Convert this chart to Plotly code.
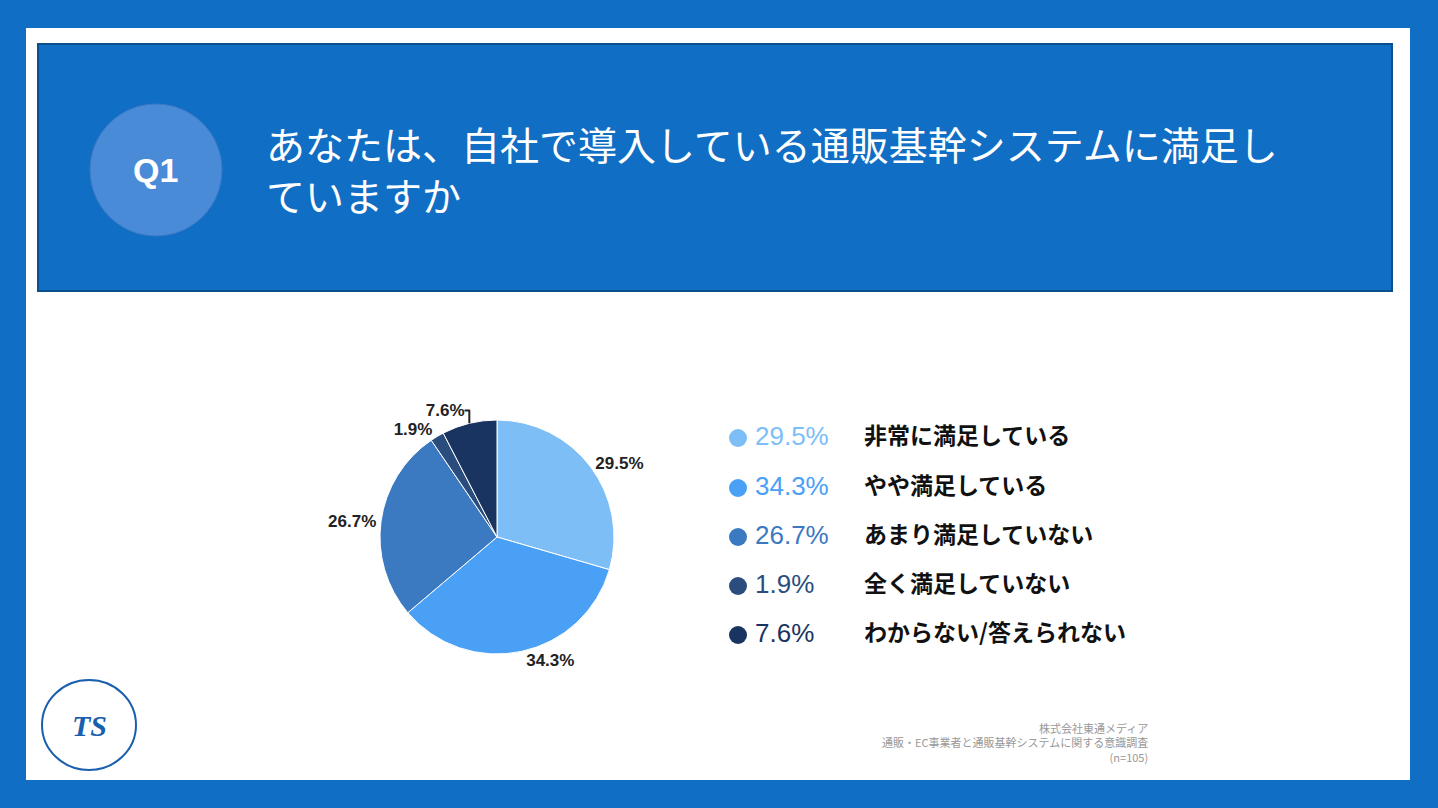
import plotly.graph_objects as go

labels = ["非常に満足している", "やや満足している", "あまり満足していない", "全く満足していない", "わからない/答えられない"]
values = [29.5, 34.3, 26.7, 1.9, 7.6]
colors = ["#7dbef7", "#4aa0f5", "#3b79c0", "#2a4d7e", "#1a3461"]
title_text = "あなたは、自社で導入している通販基幹システムに満足し<br>ていますか"

W, H = 1438, 808
fig = go.Figure()

fig.add_trace(go.Pie(
    values=values, labels=labels, sort=False, direction="clockwise", rotation=0,
    marker=dict(colors=colors, line=dict(color="white", width=1)),
    textposition="outside", texttemplate="<b>%{value:.1f}%</b>", textfont=dict(size=17, color="#222", family="Liberation Sans"),
    domain=dict(x=[380/W, 614/W], y=[1-654/H, 1-420/H]), showlegend=False, hoverinfo="skip",
))

ys = [438, 488, 537, 586, 635]
fig.add_trace(go.Scatter(x=[738]*5, y=ys, mode="markers", marker=dict(size=18, color=colors),
                         showlegend=False, hoverinfo="skip"))
fig.add_trace(go.Scatter(x=[755]*5, y=ys, mode="text", text=[f"{v:.1f}%" for v in values],
                         textposition="middle right", textfont=dict(size=26, color=colors, family="Liberation Sans"),
                         showlegend=False, hoverinfo="skip"))
fig.add_trace(go.Scatter(x=[864]*5, y=ys, mode="text", text=[f"<b>{l}</b>" for l in labels],
                         textposition="middle right", textfont=dict(size=23, color="#111", family="Noto Sans CJK JP"),
                         showlegend=False, hoverinfo="skip"))

fig.update_xaxes(range=[0, W], visible=False, fixedrange=True)
fig.update_yaxes(range=[H, 0], visible=False, fixedrange=True)

shapes = [
    dict(type="rect", xref="x", yref="y", x0=26, x1=1410, y0=28, y1=780, fillcolor="white", line_width=0, layer="below"),
    dict(type="rect", xref="x", yref="y", x0=38, x1=1392, y0=44, y1=291, fillcolor="#106ec4", line=dict(color="#0b4f8c", width=2), layer="below"),
    dict(type="circle", xref="x", yref="y", x0=90, x1=222, y0=104, y1=236, fillcolor="#4a8bd8", line=dict(color="#3a78c4", width=1), layer="below"),
    dict(type="circle", xref="x", yref="y", x0=42, x1=136, y0=680, y1=770, fillcolor="white", line=dict(color="#1a5fae", width=2), layer="below"),
]
annotations = [
    dict(x=155, y=170, xref="x", yref="y", text="<b>Q1</b>", showarrow=False, font=dict(size=34, color="white", family="Liberation Sans")),
    dict(x=264, y=168, xref="x", yref="y", text=title_text, showarrow=False, xanchor="left", align="left",
         font=dict(size=39, color="white", family="Noto Sans CJK JP")),
    dict(x=1150, y=742, xref="x", yref="y", text="株式会社東通メディア<br>通販・EC事業者と通販基幹システムに関する意識調査<br>(n=105)",
         showarrow=False, xanchor="right", align="right", font=dict(size=11, color="#999", family="Noto Sans CJK JP")),
    dict(x=89, y=725, xref="x", yref="y", text="<b><i>TS</i></b>", showarrow=False, font=dict(size=30, color="#1a5fae", family="Liberation Serif")),
]
fig.update_layout(width=W, height=H, margin=dict(l=0, r=0, t=0, b=0), paper_bgcolor="#106ec4", plot_bgcolor="rgba(0,0,0,0)",
                  shapes=shapes, annotations=annotations)
fig.write_html("out.html", config={"displayModeBar": False},
               post_script="document.body.style.margin='0';document.body.style.background='#106ec4';")
